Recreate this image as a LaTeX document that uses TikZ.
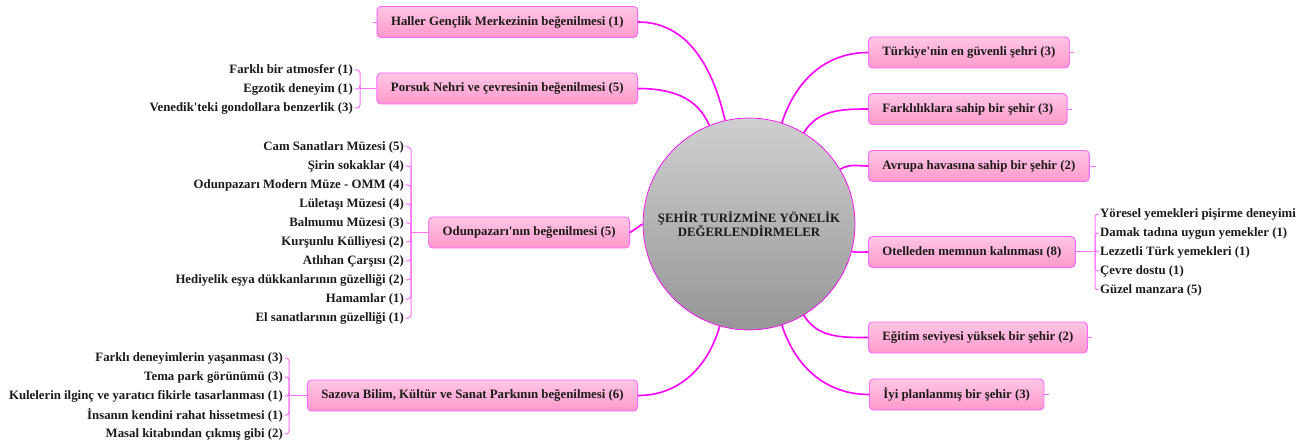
\documentclass[tikz,border=0pt]{standalone}
\usepackage{fontspec}
\setmainfont{Liberation Serif}[Ligatures=TeXOff]
\definecolor{boxtop}{HTML}{FFC6E3}
\definecolor{boxbot}{HTML}{FF99CC}
\definecolor{boxline}{HTML}{FF66FF}
\definecolor{edge}{HTML}{FF00FF}
\definecolor{brline}{HTML}{FF70FF}
\definecolor{circtop}{HTML}{CFCFCF}
\definecolor{circbot}{HTML}{969696}
\definecolor{txt}{HTML}{1A1A1A}
\tikzset{
  topic/.style={draw=boxline, line width=0.9pt, rounded corners=4pt, top color=boxtop, bottom color=boxbot,
    minimum height=31pt, inner xsep=14pt, font=\fontsize{12.8}{14}\selectfont\bfseries, text=txt},
  leaf/.style={inner xsep=1.5pt, inner ysep=0pt, font=\fontsize{12.8}{14}\selectfont\bfseries, text=txt},
  mainedge/.style={draw=edge, line width=1.6pt},
  br/.style={draw=brline, line width=1pt, rounded corners=3pt},
  stub/.style={draw=brline, line width=0.8pt}
}
\begin{document}
\begin{tikzpicture}[x=1pt,y=-1pt]
\useasboundingbox (0,0) rectangle (1314,446);
% centre
\node[circle, draw=edge, line width=0.7pt, top color=circtop, bottom color=circbot, minimum size=212pt,
  align=center, font=\fontsize{12.8}{14}\selectfont\bfseries, text=txt] (C) at (749,224)
  {ŞEHİR TURİZMİNE YÖNELİK\\DEĞERLENDİRMELER};
% left topics
\node[topic, anchor=east] (H) at (638,22) {Haller Gençlik Merkezinin beğenilmesi (1)};
\node[topic, anchor=east] (P) at (638,88.5) {Porsuk Nehri ve çevresinin beğenilmesi (5)};
\node[topic, anchor=east] (O) at (630,232.5) {Odunpazarı'nın beğenilmesi (5)};
\node[topic, anchor=east] (S) at (638,395.5) {Sazova Bilim, Kültür ve Sanat Parkının beğenilmesi (6)};
% right topics
\node[topic, anchor=west] (T) at (868,52.5) {Türkiye'nin en güvenli şehri (3)};
\node[topic, anchor=west] (F) at (868,109) {Farklılıklara sahip bir şehir (3)};
\node[topic, anchor=west] (A) at (868,166) {Avrupa havasına sahip bir şehir (2)};
\node[topic, anchor=west] (Ot) at (868,252) {Otelleden memnun kalınması (8)};
\node[topic, anchor=west] (E) at (868,337.5) {Eğitim seviyesi yüksek bir şehir (2)};
\node[topic, anchor=west] (I) at (869,394.5) {İyi planlanmış bir şehir (3)};
% main connectors
\draw[mainedge] (H.east) to[out=0,in=103] (C.103);
\draw[mainedge] (P.east) to[out=0,in=112] (C.112);
\draw[mainedge] (O.east) -- (C.180);
\draw[mainedge] (S.east) to[out=0,in=-106] (C.-106);
\draw[mainedge] (C.72) to[out=72,in=180] (T.west);
\draw[mainedge] (C.59) to[out=59,in=180] (F.west);
\draw[mainedge] (C.31) to[out=31,in=180] (A.west);
\draw[mainedge] (C.-15) to[out=-10,in=180] (Ot.west);
\draw[mainedge] (C.-59) to[out=-59,in=180] (E.west);
\draw[mainedge] (C.-72) to[out=-72,in=180] (I.west);
% stubs
\coordinate (hs) at (373,22);
\draw[stub] (H.west) -- (hs);
\coordinate (ts) at (1074,52.5);
\draw[stub] (T.east) -- (ts);
\coordinate (fs) at (1072,109);
\draw[stub] (F.east) -- (fs);
\coordinate (as) at (1096,166);
\draw[stub] (A.east) -- (as);
\coordinate (es) at (1092,337.5);
\draw[stub] (E.east) -- (es);
\coordinate (is) at (1049,394.5);
\draw[stub] (I.east) -- (is);
% Porsuk children
\coordinate (pb) at (360,88.5);
\draw[br] (P.west) -- (pb);
\foreach \t [count=\i] in {Farklı bir atmosfer (1), Egzotik deneyim (1), Venedik'teki gondollara benzerlik (3)}{
  \node[leaf, anchor=east] (p\i) at (354.5,{70+19*(\i-1)}) {\t};
  \draw[br] (pb) |- (p\i.east);
}
% Odunpazari children
\coordinate (ob) at (411,232.5);
\draw[br] (O.west) -- (ob);
\foreach \t [count=\i] in {Cam Sanatları Müzesi (5), Şirin sokaklar (4), Odunpazarı Modern Müze - OMM (4),
  Lületaşı Müzesi (4), Balmumu Müzesi (3), Kurşunlu Külliyesi (2), Atlıhan Çarşısı (2),
  Hediyelik eşya dükkanlarının güzelliği (2), Hamamlar (1), El sanatlarının güzelliği (1)}{
  \node[leaf, anchor=east] (o\i) at (405.5,{147+19*(\i-1)}) {\t};
  \draw[br] (ob) |- (o\i.east);
}
% Sazova children
\coordinate (sb) at (289,395.5);
\draw[br] (S.west) -- (sb);
\foreach \t [count=\i] in {Farklı deneyimlerin yaşanması (3), Tema park görünümü (3),
  Kulelerin ilginç ve yaratıcı fikirle tasarlanması (1), İnsanın kendini rahat hissetmesi (1),
  Masal kitabından çıkmış gibi (2)}{
  \node[leaf, anchor=east] (s\i) at (284.5,{358+19*(\i-1)}) {\t};
  \draw[br] (sb) |- (s\i.east);
}
% Otelleden children
\coordinate (tb) at (1095,252);
\draw[br] (Ot.east) -- (tb);
\foreach \t [count=\i] in {Yöresel yemekleri pişirme deneyimi, Damak tadına uygun yemekler (1),
  Lezzetli Türk yemekleri (1), Çevre dostu (1), Güzel manzara (5)}{
  \node[leaf, anchor=west] (r\i) at (1098.5,{214+19*(\i-1)}) {\t};
  \draw[br] (tb) |- (r\i.west);
}
\end{tikzpicture}
\end{document}
